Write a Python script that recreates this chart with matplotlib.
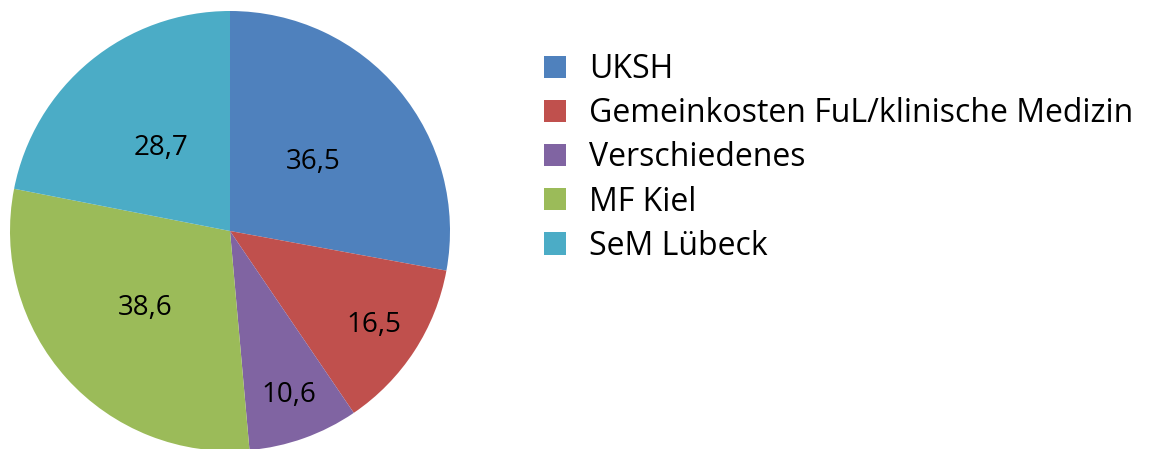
import matplotlib
matplotlib.use("Agg")
import matplotlib.pyplot as plt
from matplotlib.patches import Patch
import numpy as np

categories = ["UKSH", "Gemeinkosten FuL/klinische Medizin", "Verschiedenes", "MF Kiel", "SeM Lübeck"]
values = [36.5, 16.5, 10.6, 38.6, 28.7]
colors = ["#4F81BD", "#C0504D", "#8064A2", "#9BBB59", "#4BACC6"]
label_dist = [0.49, 0.78, 0.79, 0.52, 0.49]

plt.rcParams['font.family'] = ['Open Sans', 'DejaVu Sans']

fig = plt.figure(figsize=(11.58, 4.49), dpi=100)
W, H = 1158, 449
cx, cy, r = 230, 449 - 231, 220
ax = fig.add_axes([(cx - r) / W, (cy - r) / H, 2 * r / W, 2 * r / H])
wedges, _ = ax.pie(values, colors=colors, startangle=90, counterclock=False,
                   wedgeprops=dict(linewidth=0))
ax.set_xlim(-1, 1); ax.set_ylim(-1, 1)
ax.set_aspect('equal')
ax.axis('off')

total = sum(values)
acc = 0
for v, d in zip(values, label_dist):
    mid = 90 - (acc + v / 2) / total * 360
    acc += v
    ax.text(d * np.cos(np.radians(mid)), d * np.sin(np.radians(mid)),
            f"{v:.1f}".replace(".", ","), ha='center', va='center', fontsize=20)

handles = [Patch(facecolor=c, edgecolor='none') for c in colors]
fig.legend(handles, categories, loc='upper left', bbox_to_anchor=(544 / W, 1 - 53 / H),
           frameon=False, fontsize=23, handlelength=0.69, handleheight=0.69,
           handletextpad=0.72, labelspacing=0.35, borderaxespad=0, borderpad=0)
fig.savefig("out.png", dpi=100)
